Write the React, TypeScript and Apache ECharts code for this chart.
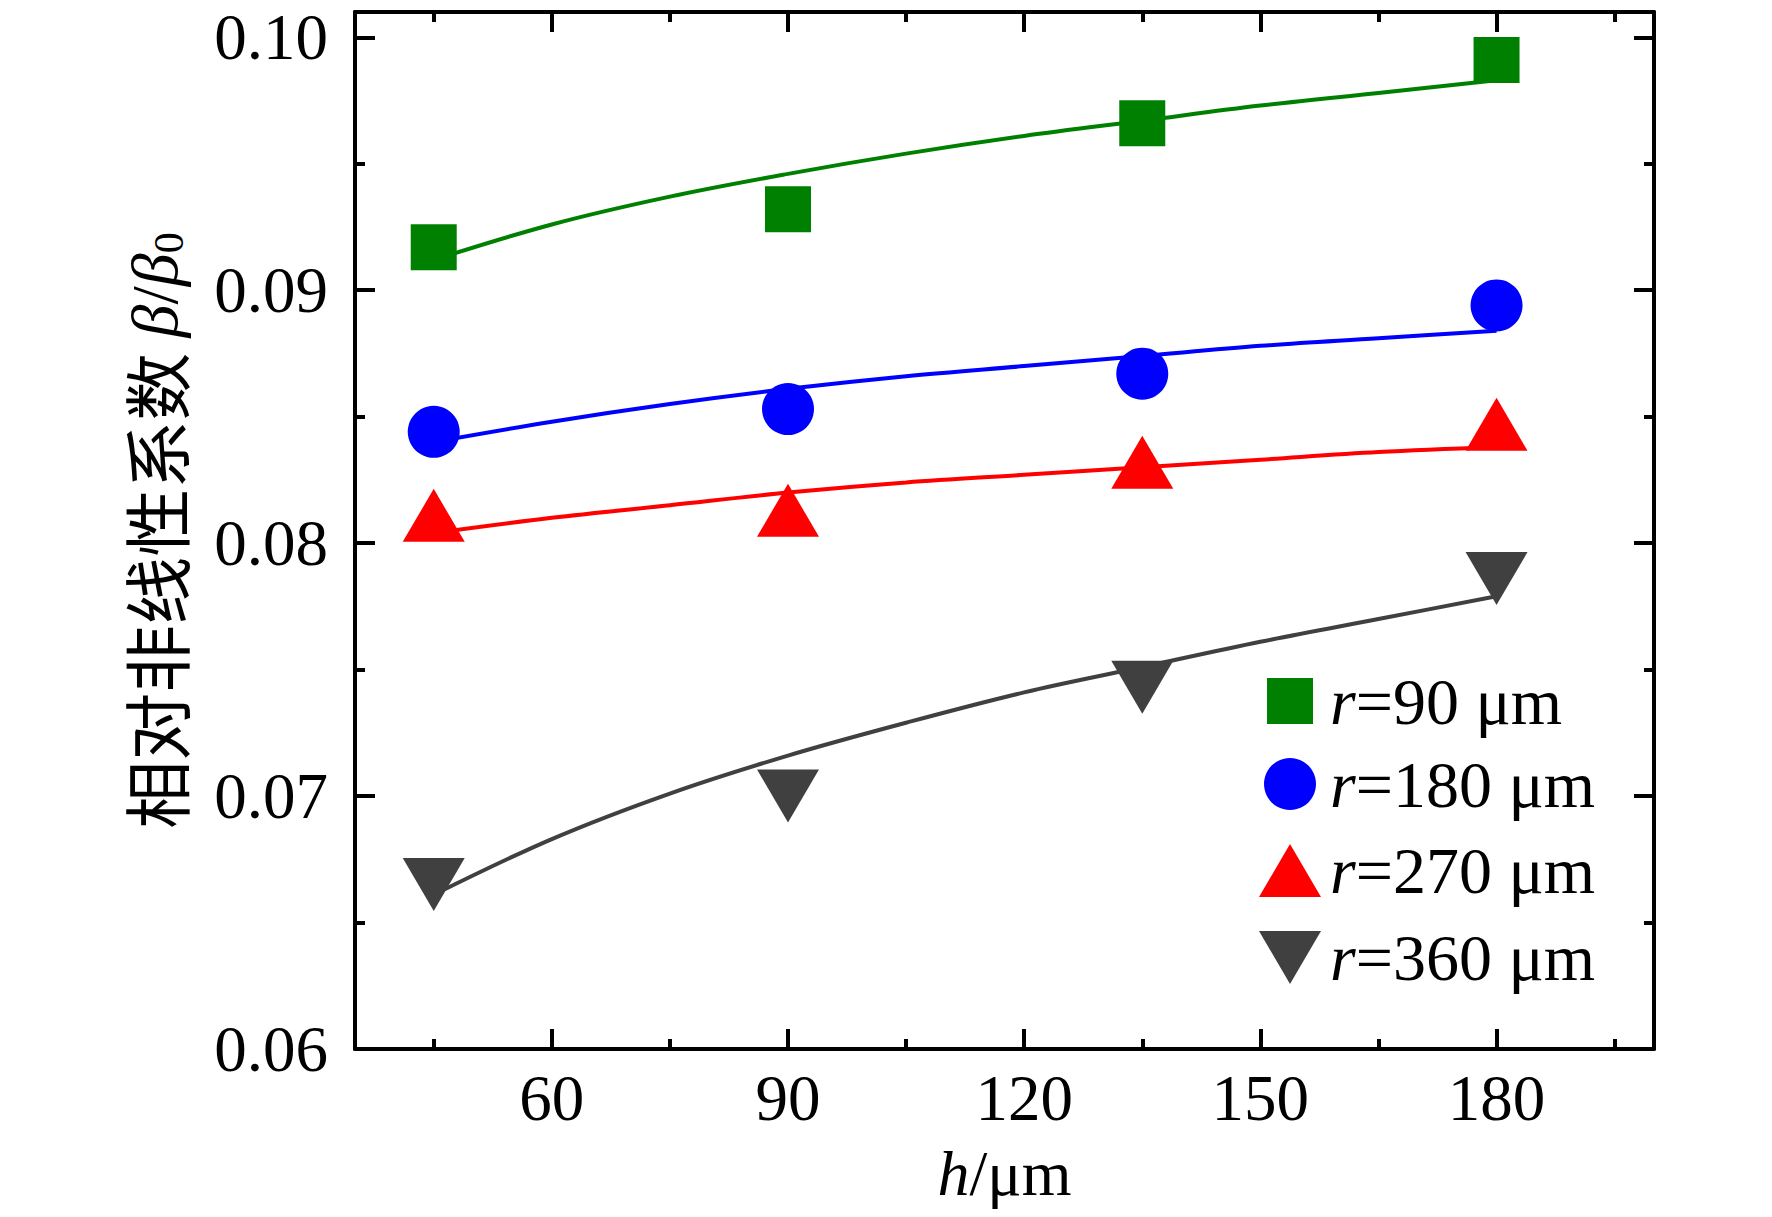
import React, { useEffect, useRef } from "react";
import * as echarts from "echarts";

// ---------- data ----------
const hValues = [45, 90, 135, 180];
const r90 = [0.0917, 0.0932, 0.0966, 0.0991];
const r180 = [0.0844, 0.0853, 0.0867, 0.0894];
const r270 = [0.0811, 0.0813, 0.0832, 0.0847];
const r360 = [0.0665, 0.07, 0.0743, 0.0786];

// fitted curves
const fitH = [45, 60, 75, 90, 105, 120, 135, 150, 165, 180];
const fit90 = [0.0912, 0.0926, 0.0937, 0.0946, 0.0954, 0.0961, 0.0967, 0.0973, 0.0978, 0.0983];
const fit180 = [0.084, 0.0848, 0.0855, 0.0861, 0.0866, 0.087, 0.0874, 0.0878, 0.0881, 0.0884];
const fit270 = [0.0804, 0.081, 0.0815, 0.082, 0.0824, 0.0827, 0.083, 0.0833, 0.0836, 0.0838];
const fit360 = [0.0661, 0.0683, 0.0701, 0.0716, 0.0729, 0.0741, 0.0751, 0.0761, 0.077, 0.0779];

const seriesNames = ["r=90 μm", "r=180 μm", "r=270 μm", "r=360 μm"];

const xMajor = [60, 90, 120, 150, 180];
const xMinor = [45, 75, 105, 135, 165, 195];
const yMajor = [0.06, 0.07, 0.08, 0.09, 0.1];
const yMinor = [0.065, 0.075, 0.085, 0.095];
const yLabels = ["0.06", "0.07", "0.08", "0.09", "0.10"];

const SERIF = '"Liberation Serif", "Times New Roman", serif';
const CJK = '"Noto Sans CJK SC", sans-serif';

const GREEN = "#008000";
const BLUE = "#0000ff";
const RED = "#ff0000";
const DARK = "#404040";

function xAxisCfg(position: string, ticks: number[], len: number, line: boolean, labels: boolean, extra: any = {}) {
  return {
    type: "value",
    position,
    min: 35,
    max: 200,
    axisLine: { show: line, onZero: false, lineStyle: { color: "#000", width: 4 } },
    axisTick: { show: true, inside: true, length: len, customValues: ticks, lineStyle: { color: "#000", width: 4 } },
    axisLabel: labels
      ? { show: true, customValues: ticks, fontFamily: SERIF, fontSize: 65, color: "#000", margin: 16 }
      : { show: false },
    splitLine: { show: false },
    ...extra,
  };
}

function yAxisCfg(position: string, ticks: number[], len: number, line: boolean, labels: boolean, extra: any = {}) {
  return {
    type: "value",
    position,
    min: 0.06,
    max: 0.101,
    axisLine: { show: line, onZero: false, lineStyle: { color: "#000", width: 4 } },
    axisTick: { show: true, inside: true, length: len, customValues: ticks, lineStyle: { color: "#000", width: 4 } },
    axisLabel: labels
      ? {
          show: true,
          customValues: ticks,
          fontFamily: SERIF,
          fontSize: 65,
          color: "#000",
          margin: 27,
          formatter: (v: number) => {
            const i = yMajor.findIndex((m) => Math.abs(m - v) < 1e-9);
            return i >= 0 ? yLabels[i] : "";
          },
        }
      : { show: false },
    splitLine: { show: false },
    ...extra,
  };
}

function pairs(xs: number[], ys: number[]) {
  return xs.map((x, i) => [x, ys[i]]);
}

function legendCfg(name: string, left: number, centerY: number, w: number, h: number, pad: number) {
  return {
    data: [name],
    orient: "vertical",
    left,
    top: centerY - h / 2,
    padding: 0,
    itemWidth: w,
    itemHeight: h,
    symbolKeepAspect: false,
    selectedMode: false,
    formatter: (n: string) => `{i|r}{n|${n.slice(1)}}`,
    textStyle: {
      color: "#000",
      fontFamily: SERIF,
      fontSize: 66,
      lineHeight: h,
      rich: {
        i: { fontFamily: SERIF, fontStyle: "italic", fontSize: 66, lineHeight: h, color: "#000", padding: [0, 0, 0, pad] },
        n: { fontFamily: SERIF, fontSize: 66, lineHeight: h, color: "#000" },
      },
    },
  };
}

const DOWN_TRI = "path://M0,0L62,0L31,53Z";

export default function App() {
  const ref = useRef<HTMLDivElement>(null);
  useEffect(() => {
    document.body.style.margin = "0";
    const chart = echarts.init(ref.current as HTMLDivElement, null, { renderer: "svg" });
    const lineBase = {
      type: "line",
      xAxisIndex: 0,
      yAxisIndex: 0,
      smooth: 0.35,
      symbol: "none",
      silent: true,
      z: 2,
    };
    const scatBase = { type: "scatter", xAxisIndex: 0, yAxisIndex: 0, z: 3, silent: true };
    const option: any = {
      animation: false,
      backgroundColor: "#fff",
      grid: { left: 355, right: 118, top: 12, bottom: 168, containLabel: false },
      xAxis: [
        xAxisCfg("bottom", xMajor, 20, true, true, {
          name: "{i|h}{n|/μm}",
          nameLocation: "middle",
          nameGap: 92,
          nameTextStyle: {
            color: "#000",
            fontFamily: SERIF,
            fontSize: 64,
            rich: {
              i: { fontFamily: SERIF, fontStyle: "italic", fontSize: 64, color: "#000" },
              n: { fontFamily: SERIF, fontSize: 64, color: "#000" },
            },
          },
        }),
        xAxisCfg("bottom", xMinor, 10, false, false),
        xAxisCfg("top", xMajor, 20, true, false),
        xAxisCfg("top", xMinor, 10, false, false),
      ],
      yAxis: [
        yAxisCfg("left", yMajor, 20, true, true, {
          name: "{c|相对非线性系数 }{i|β}{n|/}{i|β}{s|0}",
          nameLocation: "middle",
          nameRotate: 90,
          nameGap: 165,
          nameTextStyle: {
            color: "#000",
            fontFamily: SERIF,
            fontSize: 64,
            rich: {
              c: { fontFamily: CJK, fontSize: 68, color: "#000", lineHeight: 72 },
              i: { fontFamily: SERIF, fontStyle: "italic", fontSize: 66, color: "#000", lineHeight: 72 },
              n: { fontFamily: SERIF, fontSize: 66, color: "#000", lineHeight: 72 },
              s: { fontFamily: SERIF, fontSize: 42, color: "#000", lineHeight: 42, verticalAlign: "bottom" },
            },
          },
        }),
        yAxisCfg("left", yMinor, 10, false, false),
        yAxisCfg("right", yMajor, 20, true, false),
        yAxisCfg("right", yMinor, 10, false, false),
      ],
      legend: [
        legendCfg(seriesNames[0], 1267, 691, 46, 46, 12),
        legendCfg(seriesNames[1], 1264, 777, 52, 52, 9),
        legendCfg(seriesNames[2], 1259, 864, 62, 53, 4),
        legendCfg(seriesNames[3], 1259, 951, 62, 53, 4),
      ],
      series: [
        { ...lineBase, data: pairs(fitH, fit90), lineStyle: { color: GREEN, width: 4 } },
        { ...lineBase, data: pairs(fitH, fit180), lineStyle: { color: BLUE, width: 4 } },
        { ...lineBase, data: pairs(fitH, fit270), lineStyle: { color: RED, width: 4 } },
        { ...lineBase, data: pairs(fitH, fit360), lineStyle: { color: DARK, width: 4 } },
        { ...scatBase, name: seriesNames[0], data: pairs(hValues, r90), symbol: "rect", symbolSize: 46, itemStyle: { color: GREEN, opacity: 1 } },
        { ...scatBase, name: seriesNames[1], data: pairs(hValues, r180), symbol: "circle", symbolSize: 52, itemStyle: { color: BLUE, opacity: 1 } },
        { ...scatBase, name: seriesNames[2], data: pairs(hValues, r270), symbol: "triangle", symbolSize: [62, 53], itemStyle: { color: RED, opacity: 1 } },
        { ...scatBase, name: seriesNames[3], data: pairs(hValues, r360), symbol: DOWN_TRI, symbolSize: [62, 53], itemStyle: { color: DARK, opacity: 1 } },
      ],
    };
    chart.setOption(option);
    return () => chart.dispose();
  }, []);
  return (
    <div
      ref={ref}
      style={{ position: "absolute", left: 0, top: 0, width: 1772, height: 1217, background: "#fff" }}
    />
  );
}
